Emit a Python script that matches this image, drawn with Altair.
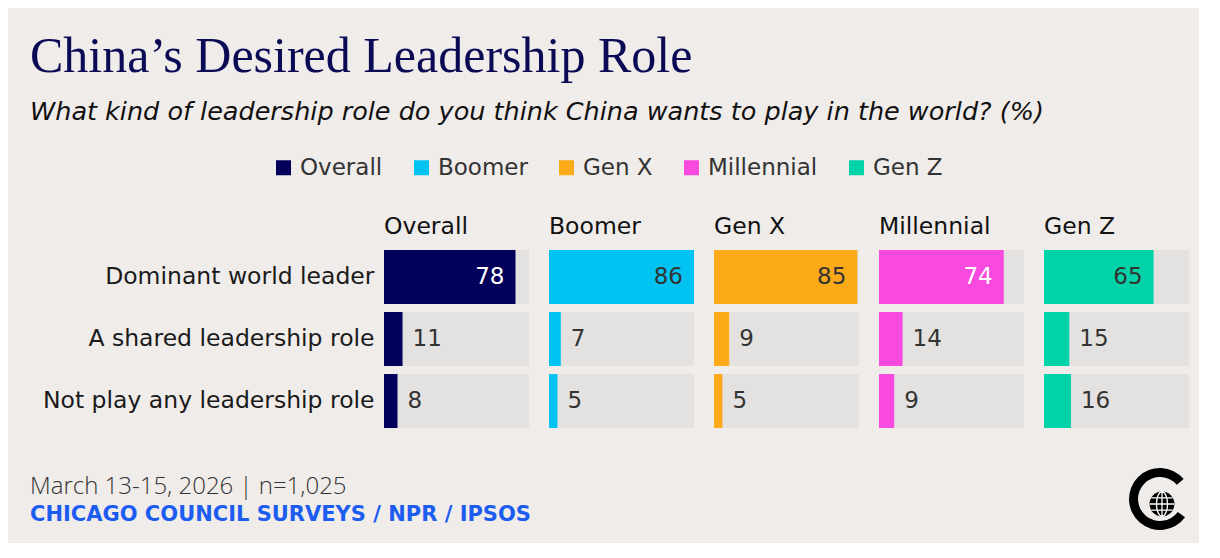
import altair as alt
import pandas as pd

title_text = "China\u2019s Desired Leadership Role"
subtitle_text = "What kind of leadership role do you think China wants to play in the world? (%)"
date_note = "March 13-15, 2026 | n=1,025"
source_note = "CHICAGO COUNCIL SURVEYS / NPR / IPSOS"

generations = ["Overall", "Boomer", "Gen X", "Millennial", "Gen Z"]
roles = ["Dominant world leader", "A shared leadership role", "Not play any leadership role"]
overall = [78, 11, 8]
boomer = [86, 7, 5]
gen_x = [85, 9, 5]
millennial = [74, 14, 9]
gen_z = [65, 15, 16]

palette = ["#02005a", "#00c3f2", "#fdaa19", "#f84ade", "#00d3a8"]
SANS = "DejaVu Sans"
LIGHT = "Open Sans"
SERIF = "Liberation Serif"
BG = "#f0ecea"
LEFT = -354  # offset from plot origin to the left text edge

series = [overall, boomer, gen_x, millennial, gen_z]
track_max = max(max(s) for s in series)
rows = []
for g, vals in zip(generations, series):
    for r, v in zip(roles, vals):
        rows.append({"generation": g, "role": r, "value": v, "track": track_max})
df = pd.DataFrame(rows)

base = alt.Chart(df)

xscale = alt.Scale(nice=False, zero=True)
y = alt.Y(
    "role:N",
    sort=roles,
    title=None,
    scale=alt.Scale(paddingInner=0.13, paddingOuter=0),
    axis=alt.Axis(
        domain=False, ticks=False, labelFontSize=23.5, labelFont=SANS, labelColor="#1a1a1a",
        labelPadding=10, labelLimit=500,
    ),
)

track = base.mark_bar(color="#e4e2e0").encode(
    x=alt.X("track:Q", scale=xscale, axis=None), y=y
)
bars = base.mark_bar().encode(
    x=alt.X("value:Q", scale=xscale, axis=None),
    y=y,
    color=alt.Color(
        "generation:N",
        sort=generations,
        scale=alt.Scale(domain=generations, range=palette),
        legend=alt.Legend(
            title=None, orient="none", direction="horizontal", legendX=-112, legendY=-94,
            symbolType="square", symbolSize=225, symbolOpacity=1, symbolStrokeWidth=0,
            labelFontSize=23, labelFont=SANS, labelColor="#333", labelOffset=5,
            columnPadding=27, labelLimit=300,
        ),
    ),
)
big = base.transform_filter("datum.value >= 50").mark_text(
    align="right", baseline="middle", dx=-11, fontSize=23, font=SANS
).encode(
    x=alt.X("value:Q", scale=xscale, axis=None),
    y=y,
    text="value:Q",
    color=alt.condition(
        "datum.generation == 'Overall' || datum.generation == 'Millennial'",
        alt.value("#ffffff"), alt.value("#333333"),
    ),
)
small = base.transform_filter("datum.value < 50").mark_text(
    align="left", baseline="middle", dx=10, fontSize=23, font=SANS, color="#333333"
).encode(
    x=alt.X("value:Q", scale=xscale, axis=None),
    y=y,
    text="value:Q",
)

panel = alt.layer(track, bars, big, small).properties(width=145, height=178)
faceted = panel.facet(
    column=alt.Column(
        "generation:N", sort=generations,
        header=alt.Header(
            title=None, labelAlign="left", labelAnchor="start", labelFontSize=23.5,
            labelFont=SANS, labelColor="#111", labelPadding=12,
        ),
    ),
    spacing=20,
)

one = pd.DataFrame({"k": [0]})
line1 = alt.Chart(pd.DataFrame({"t": [date_note]})).mark_text(
    align="left", baseline="alphabetic", fontSize=24, font=LIGHT, fontWeight=300, color="#333"
).encode(x=alt.value(LEFT), y=alt.value(36), text="t:N")
line2 = alt.Chart(pd.DataFrame({"t": [source_note]})).mark_text(
    align="left", baseline="alphabetic", fontSize=21, font=SANS, fontWeight="bold", color="#1d5cf0"
).encode(x=alt.value(LEFT), y=alt.value(63), text="t:N")
ring = alt.Chart(one).mark_arc(
    radius=31, radius2=22, theta=2.2, theta2=7.15, color="#000000"
).encode(x=alt.value(776), y=alt.value(41))
globe = alt.Chart(one).mark_circle(size=620, color="#000000", opacity=1).encode(
    x=alt.value(778), y=alt.value(46)
)
grid = alt.Chart(one).mark_point(
    shape="M 0,-1 A 0.45,1 0 0 1 0,1 A 0.45,1 0 0 1 0,-1 Z M -1,0 L 1,0 M -0.87,-0.5 L 0.87,-0.5 M -0.87,0.5 L 0.87,0.5 M 0,-1 L 0,1",
    size=600, filled=False, stroke="#ffffff", strokeWidth=1.3, opacity=1,
).encode(x=alt.value(778), y=alt.value(46))
footer = alt.layer(line1, line2, ring, globe, grid).properties(width=790, height=75)

chart = alt.vconcat(faceted, footer, spacing=30).properties(
    title=alt.TitleParams(
        text=title_text, subtitle=subtitle_text, anchor="start", frame="group", dx=LEFT,
        font=SERIF, fontSize=50, fontWeight="normal", color="#0a0a55",
        subtitleFont=SANS, subtitleFontSize=25.5, subtitleFontStyle="italic",
        subtitleColor="#111", subtitlePadding=18, offset=31,
    ),
    background=BG,
    padding={"left": 22, "top": 23, "right": 10, "bottom": 10},
).configure_view(stroke=None)

chart.save("out.html", embed_options={"renderer": "svg", "actions": False})
